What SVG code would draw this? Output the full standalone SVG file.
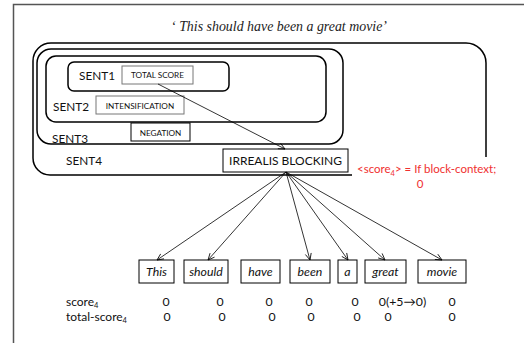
<svg xmlns="http://www.w3.org/2000/svg" width="524" height="343" viewBox="0 0 524 343">
<defs>
<marker id="arr" markerWidth="8" markerHeight="8" refX="7" refY="3.5" orient="auto" markerUnits="userSpaceOnUse">
<path d="M0.5,0.5 L7,3.5 L0.5,6.5" fill="none" stroke="#000" stroke-width="0.8"/>
</marker>
<style>
.lbl{font-family:Lato,"Liberation Sans",sans-serif;fill:#111}
.s{font-size:11.8px}
.sm{font-size:8.2px;text-anchor:middle}
.sent{fill:none;stroke:#000;stroke-width:1.5}
.box{fill:#fff;stroke:#000;stroke-width:1}
.gbox{fill:#fff;stroke:#777;stroke-width:1}
.w{font-family:Lato,"Liberation Sans",sans-serif;font-style:italic;font-size:12.3px;text-anchor:middle;fill:#111}
.n{font-family:Lato,"Liberation Sans",sans-serif;font-size:12.3px;text-anchor:middle;fill:#111}
.c{stroke:#000;stroke-width:0.8;fill:none;marker-end:url(#arr)}
.red{font-family:Lato,"Liberation Sans",sans-serif;font-size:11.5px;fill:#f03030}
</style>
</defs>
<rect x="0" y="0" width="524" height="343" fill="#fff"/>
<path d="M13.5,343 V4.5 H524" fill="none" stroke="#555" stroke-width="1.5"/>
<text x="279" y="31" font-family="'Liberation Serif',serif" font-style="italic" font-size="13.9" text-anchor="middle" fill="#222">‘ This should have been a great movie’</text>

<g id="sent4">
<path class="sent" d="M352,175 H50 A17,17 0 0 1 33,158 V61 A18,18 0 0 1 51,43 H466 A20,20 0 0 1 486,63 V157"/>
<text class="lbl s" x="66" y="165">SENT4</text>
</g>
<g id="sent3">
<rect class="sent" x="37" y="49" width="306" height="95" rx="14"/>
<text class="lbl s" x="52" y="143">SENT3</text>
</g>
<g id="sent2">
<rect class="sent" x="46" y="56" width="280" height="66" rx="10"/>
<text class="lbl s" x="53" y="111">SENT2</text>
</g>
<g id="sent1">
<rect class="sent" x="68" y="62" width="161" height="29" rx="6"/>
<text class="lbl s" x="79" y="79.5">SENT1</text>
</g>
<g id="total-score">
<rect class="gbox" x="122" y="66" width="71" height="18"/>
<text class="lbl sm" x="157.5" y="78">TOTAL SCORE</text>
</g>
<g id="intensification">
<rect class="gbox" x="96" y="96" width="88" height="18"/>
<text class="lbl sm" x="140" y="108.5">INTENSIFICATION</text>
</g>
<g id="negation">
<rect class="box" x="131" y="123" width="59" height="18"/>
<text class="lbl sm" x="160.5" y="135.5">NEGATION</text>
</g>
<g id="irrealis">
<rect class="box" x="223" y="149" width="125" height="23"/>
<text class="lbl" x="285.5" y="165" font-size="12" text-anchor="middle">IRREALIS BLOCKING</text>
</g>
<g id="rule">
<text class="red" x="357" y="173">&lt;score<tspan font-size="7.5" dy="2.5">4</tspan><tspan dy="-2.5">&gt; = If block-context;</tspan></text>
<text class="red" x="420" y="188" text-anchor="middle">0</text>
</g>

<g id="w-this"><rect class="box" x="139" y="260" width="35" height="23"/><text class="w" x="156.5" y="276">This</text></g>
<g id="w-should"><rect class="box" x="184" y="260" width="44" height="23"/><text class="w" x="206" y="276">should</text></g>
<g id="w-have"><rect class="box" x="241" y="260" width="39" height="23"/><text class="w" x="260.5" y="276">have</text></g>
<g id="w-been"><rect class="box" x="290" y="260" width="40" height="23"/><text class="w" x="310" y="276">been</text></g>
<g id="w-a"><rect class="box" x="338" y="260" width="19" height="23"/><text class="w" x="347.5" y="276">a</text></g>
<g id="w-great"><rect class="box" x="365" y="260" width="41" height="23"/><text class="w" x="385.5" y="276">great</text></g>
<g id="w-movie"><rect class="box" x="418" y="260" width="48" height="23"/><text class="w" x="442" y="276">movie</text></g>

<g id="connectors">
<line class="c" x1="158" y1="84" x2="285" y2="149"/>
<line class="c" x1="286" y1="172" x2="157" y2="260"/>
<line class="c" x1="286" y1="172" x2="208" y2="260"/>
<line class="c" x1="286" y1="172" x2="310" y2="260"/>
<line class="c" x1="286" y1="172" x2="348" y2="260"/>
<line class="c" x1="286" y1="172" x2="385" y2="260"/>
<line class="c" x1="286" y1="172" x2="442" y2="260"/>
</g>

<g id="scores">
<text class="lbl" x="66" y="306" font-size="12">score<tspan font-size="7.5" dy="2">4</tspan></text>
<text class="lbl" x="66" y="321" font-size="12">total-score<tspan font-size="7.5" dy="2">4</tspan></text>
<text class="n" x="166" y="306">0</text>
<text class="n" x="220" y="306">0</text>
<text class="n" x="269" y="306">0</text>
<text class="n" x="309" y="306">0</text>
<text class="n" x="355" y="306">0</text>
<text class="n" x="402.5" y="306">0(+5→0)</text>
<text class="n" x="452" y="306">0</text>
<text class="n" x="167" y="321">0</text>
<text class="n" x="222" y="321">0</text>
<text class="n" x="272" y="321">0</text>
<text class="n" x="311" y="321">0</text>
<text class="n" x="357" y="321">0</text>
<text class="n" x="388" y="321">0</text>
<text class="n" x="452" y="321">0</text>
</g>
</svg>
